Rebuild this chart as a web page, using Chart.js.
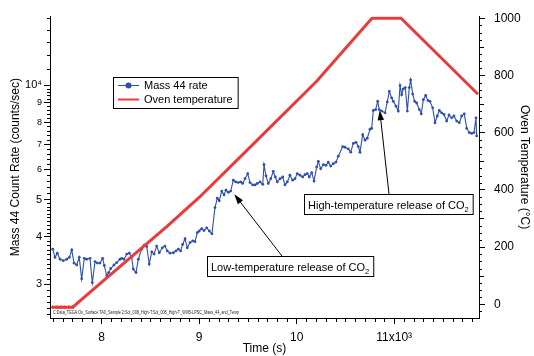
<!DOCTYPE html>
<html>
<head>
<meta charset="utf-8">
<script src="https://cdn.jsdelivr.net/npm/chart.js@4.4.0/dist/chart.umd.min.js"></script>
<style>
  body { margin: 0; background: #fff; }
  #wrap { width: 534px; height: 356px; position: relative; }
</style>
</head>
<body>
<div id="wrap"><canvas id="tegaChart"></canvas></div>
<script>
// ===================== data =====================
// Mass 44 sample times (s) and count rate (counts/sec)
var massTime = [
  7498, 7521, 7545, 7573, 7606, 7641, 7668, 7693, 7716, 7744,
  7770, 7795, 7822, 7846, 7880, 7904, 7932, 7955, 7983, 8010,
  8027, 8052, 8072, 8093, 8126, 8154, 8188, 8205, 8229, 8257,
  8283, 8308, 8324, 8352, 8376, 8410, 8437, 8462, 8488, 8513,
  8537, 8564, 8591, 8622, 8649, 8673, 8701, 8735, 8762, 8786,
  8810, 8831, 8855, 8878, 8906, 8934, 8957, 8981, 9001, 9026,
  9049, 9077, 9104, 9131, 9162, 9186, 9206, 9231, 9255, 9275,
  9299, 9323, 9350, 9375, 9401, 9426, 9446, 9470, 9498, 9521,
  9549, 9573, 9596, 9624, 9652, 9665, 9685, 9709, 9734, 9760,
  9781, 9801, 9829, 9857, 9880, 9904, 9931, 9959, 9983, 10006,
  10034, 10062, 10085, 10109, 10129, 10154, 10178, 10205, 10222, 10246,
  10273, 10301, 10324, 10349, 10376, 10403, 10427,
  10472, 10495, 10529, 10554, 10581, 10608, 10632, 10649, 10677, 10701,
  10724, 10752, 10769, 10786, 10810, 10831, 10847, 10872, 10906, 10929,
  10950, 10974, 10991, 11019, 11042, 11060, 11077, 11093, 11114, 11135,
  11155, 11169, 11190, 11210, 11231, 11258, 11278, 11299, 11323, 11347,
  11367, 11395, 11419, 11442, 11463, 11487, 11511, 11539, 11562, 11590,
  11613, 11641, 11668, 11692, 11719, 11744, 11770, 11795, 11819, 11839, 11846
];
var massRate = [
  3710, 3530, 3620, 3490, 3460, 3490, 3530, 3690, 3410, 3370,
  3530, 3100, 3510, 3490, 3510, 3030, 3440, 3410, 3410, 3510,
  3360, 3160, 3220, 3300, 3370, 3420, 3490, 3510, 3490, 3600,
  3620, 3530, 3290, 3220, 3490, 3710, 3800, 3770, 3390, 3650,
  3600, 3780, 3630, 3740, 3780, 3670, 3620, 3630, 3670, 3710,
  3670, 3820, 3950, 3740, 3860, 3900, 3880, 4100, 4140, 4200,
  4150, 4220, 4140, 4070, 4770, 5050, 4970, 5270, 5150, 5300,
  5230, 5270, 5630, 5570, 5550, 5570, 5520, 5680, 5860, 5550,
  5470, 5470, 5520, 5570, 5490, 6180, 5780, 5520, 5680, 5940,
  5740, 5570, 5680, 5740, 5470, 5570, 5800, 5630, 5680, 5860,
  5800, 5740, 5820, 5860, 5740, 5890, 5600, 6100, 6310, 6030,
  6180, 6160, 6280, 6130, 6220, 6280, 6510,
  6900, 6870, 6800, 6670, 7030, 7080, 6900, 6670, 7410, 7170,
  7260, 7660, 7700, 8580, 8630, 9070, 8630, 8550, 8460, 9040,
  9630, 9260, 9070, 8810, 8550, 9980, 9440, 9780, 9860, 8550,
  9860, 10320, 9480, 9070, 8980, 8630, 8410, 9160, 9400, 9110,
  9070, 8720, 7970, 8300, 8580, 8460, 8380, 8050, 8350, 8210,
  8300, 8050, 7970, 8300, 8410, 7700, 7510, 7470, 7510, 8210, 7360
];
// oven temperature (°C)
var ovenTime = [7498, 7540, 7580, 7620, 7660, 7703, 7983, 8670, 9008, 9572, 10200, 10772, 11070, 11860];
var ovenTemp = [-10, -10, -10, -10, -10, -10, 72, 272, 376, 566, 778, 1000, 1000, 734];

// tick labels
var xMajor = [8000, 9000, 10000, 11000];
var xLabels = ["8", "9", "10", "11x10³"];
var yMajor = [3000, 4000, 5000, 6000, 7000, 8000, 9000, 10000];
var yLabels = ["3", "4", "5", "6", "7", "8", "9", "10⁴"];
var tMajor = [0, 200, 400, 600, 800, 1000];
var tLabels = ["0", "200", "400", "600", "800", "1000"];

var FONT = "'Liberation Sans', Arial, sans-serif";
var BLUE = "#2f4fb0";
var RED = "#ea3a3a";

function pairs(xs, ys) {
  return xs.map(function (x, i) { return { x: x, y: ys[i] }; });
}

// minor tick positions (unlabelled)
function stepTicks(a, b, step) {
  var out = [];
  for (var v = a; v <= b + 1e-6; v += step) out.push(Math.round(v));
  return out;
}
var xAll = stepTicks(7500, 11800, 100);
var yAll = stepTicks(2500, 4900, 100).concat(stepTicks(5000, 9800, 200), stepTicks(10000, 15000, 1000));
var tAll = stepTicks(-25, 1000, 25);

function setTicks(values) {
  return function (scale) {
    scale.ticks = values.map(function (v) { return { value: v }; });
  };
}
function labelFrom(major, labels) {
  return function (v) {
    var i = major.indexOf(v);
    return i < 0 ? "" : labels[i];
  };
}
function majorColor(major) {
  return function (c) {
    return c.tick && major.indexOf(c.tick.value) >= 0 ? "#000" : "rgba(0,0,0,0)";
  };
}

// short minor ticks
var minorTicks = {
  id: "minorTicks",
  afterDraw: function (chart) {
    var c = chart.ctx;
    var a = chart.chartArea;
    c.save();
    c.strokeStyle = "#000";
    c.lineWidth = 1;
    c.beginPath();
    var sx = chart.scales.x;
    xAll.forEach(function (v) {
      if (xMajor.indexOf(v) >= 0) return;
      var p = Math.round(sx.getPixelForValue(v)) + 0.5;
      c.moveTo(p, a.bottom); c.lineTo(p, a.bottom + 4);
    });
    var sy = chart.scales.y;
    yAll.forEach(function (v) {
      if (yMajor.indexOf(v) >= 0) return;
      var p = Math.round(sy.getPixelForValue(v)) + 0.5;
      c.moveTo(a.left, p); c.lineTo(a.left - 3, p);
    });
    var st = chart.scales.y1;
    tAll.forEach(function (v) {
      if (tMajor.indexOf(v) >= 0) return;
      var p = Math.round(st.getPixelForValue(v)) + 0.5;
      var len = v % 100 === 0 ? 5 : 3;
      c.moveTo(a.right, p); c.lineTo(a.right + len, p);
    });
    c.stroke();

    // file path note
    c.fillStyle = "#222";
    c.font = "4.6px " + FONT;
    c.textBaseline = "middle";
    c.fillText("C:Data_TEGA:On_Surface:TA0_Sample 2:Sol_008_High-T:Sol_008_High-T_WVB-LPSC_Mass_44_and_Temp",
      a.left + 3, a.bottom - 5, 186);
    c.restore();
  }
};

// legend box inside the plot
var boxLegend = {
  id: "boxLegend",
  afterDraw: function (chart) {
    var c = chart.ctx;
    var x0 = 113, y0 = 77, h = 31;
    c.save();
    c.font = "11px " + FONT;
    var tw = 0;
    chart.data.datasets.forEach(function (ds) { tw = Math.max(tw, c.measureText(ds.label).width); });
    var w = tw + 36;
    c.fillStyle = "#fff";
    c.fillRect(x0, y0, w, h);
    c.strokeStyle = "#000";
    c.lineWidth = 1;
    c.strokeRect(x0 + 0.5, y0 + 0.5, w, h);
    c.textBaseline = "middle";
    chart.data.datasets.forEach(function (ds, i) {
      var y = y0 + 8.5 + i * 14;
      c.strokeStyle = ds.borderColor;
      c.lineWidth = i === 0 ? 1 : 2;
      c.beginPath();
      c.moveTo(x0 + 5, y); c.lineTo(x0 + 26, y);
      c.stroke();
      if (i === 0) {
        c.fillStyle = ds.borderColor;
        c.beginPath();
        c.arc(x0 + 15.5, y, 3, 0, Math.PI * 2);
        c.fill();
      }
      c.fillStyle = "#000";
      c.fillText(ds.label, x0 + 31, y + 0.5);
    });
    c.restore();
  }
};

// labelled arrows
var notes = [
  { text: "Low-temperature release of CO", sub: "2", tipT: 9360, tipR: 5170, left: 207, top: 256, fromX: 282 },
  { text: "High-temperature release of CO", sub: "2", tipT: 10852, tipR: 8600, left: 304, top: 194, fromX: 389 }
];
var arrowNotes = {
  id: "arrowNotes",
  afterDraw: function (chart) {
    var c = chart.ctx;
    c.save();
    notes.forEach(function (n) {
      var tx = chart.scales.x.getPixelForValue(n.tipT);
      var ty = chart.scales.y.getPixelForValue(n.tipR);
      var fx = n.fromX, fy = n.top;
      var ang = Math.atan2(ty - fy, tx - fx);
      c.strokeStyle = "#000";
      c.fillStyle = "#000";
      c.lineWidth = 1;
      c.beginPath();
      c.moveTo(fx, fy);
      c.lineTo(tx - Math.cos(ang) * 6, ty - Math.sin(ang) * 6);
      c.stroke();
      c.beginPath();
      c.moveTo(tx, ty);
      c.lineTo(tx - Math.cos(ang) * 10 + Math.sin(ang) * 3.2, ty - Math.sin(ang) * 10 - Math.cos(ang) * 3.2);
      c.lineTo(tx - Math.cos(ang) * 10 - Math.sin(ang) * 3.2, ty - Math.sin(ang) * 10 + Math.cos(ang) * 3.2);
      c.closePath();
      c.fill();

      c.font = "11px " + FONT;
      var w1 = c.measureText(n.text).width;
      c.font = "7.5px " + FONT;
      var w2 = c.measureText(n.sub).width;
      var bw = w1 + w2 + 8, bh = 20;
      c.fillStyle = "#fff";
      c.fillRect(n.left, n.top, bw, bh);
      c.strokeStyle = "#000";
      c.strokeRect(n.left + 0.5, n.top + 0.5, bw, bh);
      c.fillStyle = "#000";
      c.textBaseline = "alphabetic";
      c.font = "11px " + FONT;
      c.fillText(n.text, n.left + 4, n.top + 14.5);
      c.font = "7.5px " + FONT;
      c.fillText(n.sub, n.left + 4 + w1, n.top + 17.5);
    });
    c.restore();
  }
};

var ctx = document.getElementById("tegaChart").getContext("2d");
var tegaChart = new Chart(ctx, {
  type: "line",
  data: {
    datasets: [
      {
        label: "Mass 44 rate",
        data: pairs(massTime, massRate),
        yAxisID: "y",
        borderColor: BLUE,
        backgroundColor: BLUE,
        borderWidth: 1.1,
        pointRadius: 1.4,
        pointBorderWidth: 0,
        pointBackgroundColor: BLUE,
        order: 2
      },
      {
        label: "Oven temperature",
        data: pairs(ovenTime, ovenTemp),
        yAxisID: "y1",
        borderColor: RED,
        backgroundColor: RED,
        borderWidth: 3,
        pointRadius: function (c) { return c.dataIndex < 6 ? 1.6 : 0; },
        pointBorderWidth: 0,
        pointBackgroundColor: RED,
        order: 1
      }
    ]
  },
  options: {
    responsive: true,
    maintainAspectRatio: false,
    animation: false,
    layout: { padding: { top: 12 } },
    plugins: { legend: { display: false }, tooltip: { enabled: false } },
    scales: {
      x: {
        type: "linear",
        min: 7470,
        max: 11870,
        afterBuildTicks: setTicks(xAll),
        afterFit: function (s) { s.height = 38; },
        border: { display: true, color: "#000", width: 1 },
        grid: { drawOnChartArea: false, tickLength: 6, tickColor: majorColor(xMajor) },
        ticks: {
          autoSkip: false, maxRotation: 0, padding: 6, color: "#000",
          font: { family: FONT, size: 12 },
          callback: labelFrom(xMajor, xLabels)
        },
        title: { display: true, text: "Time (s)", color: "#000", font: { family: FONT, size: 12 }, padding: { bottom: 0 } }
      },
      y: {
        type: "logarithmic",
        position: "left",
        min: 2446,
        max: 15180,
        afterBuildTicks: setTicks(yAll),
        afterFit: function (s) { s.width = 50; },
        border: { display: true, color: "#000", width: 1 },
        grid: { drawOnChartArea: false, tickLength: 6, tickColor: majorColor(yMajor) },
        ticks: {
          autoSkip: false, padding: 2, color: "#000",
          font: function (c) {
            var v = c.tick ? c.tick.value : 0;
            return { family: FONT, size: (v >= 6000 && v <= 9000) ? 9 : 11 };
          },
          callback: labelFrom(yMajor, yLabels)
        },
        title: { display: true, text: "Mass 44 Count Rate (counts/sec)", color: "#000", font: { family: FONT, size: 12 }, padding: { top: 8 } }
      },
      y1: {
        type: "linear",
        position: "right",
        min: -48,
        max: 1007,
        afterBuildTicks: setTicks(tAll),
        afterFit: function (s) { s.width = 55; },
        border: { display: true, color: "#000", width: 1 },
        grid: { drawOnChartArea: false, tickLength: 6, tickColor: majorColor(tMajor) },
        ticks: {
          autoSkip: false, padding: 9, color: "#000",
          font: { family: FONT, size: 12 },
          callback: labelFrom(tMajor, tLabels)
        },
        title: { display: true, text: "Oven Temperature (°C)", color: "#000", font: { family: FONT, size: 12 }, padding: { top: 2 } }
      }
    }
  },
  plugins: [minorTicks, arrowNotes, boxLegend]
});
</script>
</body>
</html>
